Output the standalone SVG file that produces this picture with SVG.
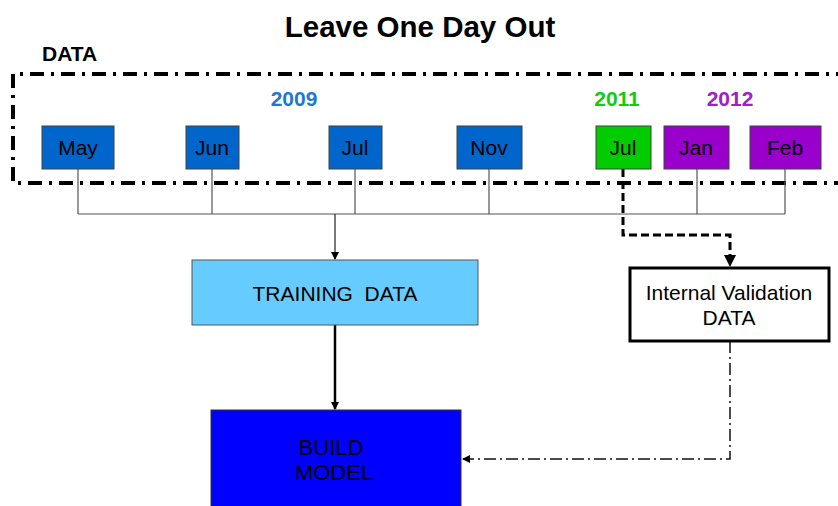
<svg xmlns="http://www.w3.org/2000/svg" width="838" height="506" viewBox="0 0 838 506">
<style>
text{font-family:"Liberation Sans",Arial,sans-serif;}
.t{font-size:21px;fill:#000;text-anchor:middle;}
.yr{font-size:21px;font-weight:bold;text-anchor:middle;}
.mo{stroke:#404040;stroke-width:1;}
.thin{stroke:#555;stroke-width:1.2;fill:none;}
</style>
<defs>
<marker id="ah" markerWidth="8" markerHeight="8" refX="7" refY="4" orient="auto" markerUnits="userSpaceOnUse"><path d="M0,0 L8,4 L0,8 Z" fill="#000"/></marker>
<marker id="ah2" markerWidth="12" markerHeight="12" refX="11" refY="6" orient="auto" markerUnits="userSpaceOnUse"><path d="M0,0 L12,6 L0,12 Z" fill="#000"/></marker>
</defs>
<rect width="838" height="506" fill="#fff"/>
<text x="420" y="37" style="font-size:29.5px;font-weight:bold;" text-anchor="middle">Leave One Day Out</text>
<g id="data-frame">
<text x="42" y="61" style="font-size:21px;font-weight:bold;">DATA</text>
<path d="M850,74 L13,74 L13,183 L850,183" fill="none" stroke="#000" stroke-width="4" stroke-dasharray="14,7,3,7"/>
<text x="294" y="106" class="yr" fill="#1F78D0">2009</text>
<text x="617" y="106" class="yr" fill="#11CC11">2011</text>
<text x="730" y="106" class="yr" fill="#A020C8">2012</text>
</g>
<g id="connectors">
<path class="thin" d="M78,169 V214 M212,169 V214 M355,169 V214 M489,169 V214 M697,169 V214 M785,169 V214 M78,214 H785"/>
<line x1="335" y1="214" x2="335" y2="259" stroke="#222" stroke-width="1.2" marker-end="url(#ah)"/>
<line x1="335" y1="325" x2="335" y2="409" stroke="#000" stroke-width="2.5" marker-end="url(#ah)"/>
<path d="M623,169 V235 H730 V266" fill="none" stroke="#000" stroke-width="3" stroke-dasharray="8,4" marker-end="url(#ah2)"/>
<path d="M730,341 V459 H463" fill="none" stroke="#111" stroke-width="1.5" stroke-dasharray="12,4,2,4" marker-end="url(#ah)"/>
</g>
<g id="may"><rect x="42" y="126" width="72" height="43" fill="#0066CC" class="mo"/><text x="78" y="155" class="t">May</text></g>
<g id="jun"><rect x="186" y="126" width="53" height="43" fill="#0066CC" class="mo"/><text x="212" y="155" class="t">Jun</text></g>
<g id="jul2009"><rect x="329" y="126" width="53" height="43" fill="#0066CC" class="mo"/><text x="355" y="155" class="t">Jul</text></g>
<g id="nov"><rect x="457" y="126" width="65" height="43" fill="#0066CC" class="mo"/><text x="489" y="155" class="t">Nov</text></g>
<g id="jul2011"><rect x="596" y="126" width="55" height="43" fill="#00CC00" class="mo"/><text x="623" y="155" class="t">Jul</text></g>
<g id="jan"><rect x="664" y="126" width="65" height="43" fill="#9900CC" class="mo"/><text x="696" y="155" class="t">Jan</text></g>
<g id="feb"><rect x="750" y="126" width="71" height="43" fill="#9900CC" class="mo"/><text x="785" y="155" class="t">Feb</text></g>
<g id="training"><rect x="192" y="260" width="286" height="65" fill="#66CCFF" stroke="#555" stroke-width="1"/><text x="335" y="301" class="t" xml:space="preserve">TRAINING  DATA</text></g>
<g id="validation"><rect x="630" y="268" width="199" height="73" fill="#fff" stroke="#000" stroke-width="3"/><text x="729" y="300" class="t">Internal Validation</text><text x="729" y="325" class="t">DATA</text></g>
<g id="build"><rect x="211" y="410" width="250" height="100" fill="#0000FF" stroke="#333" stroke-width="1"/><text x="331" y="455" class="t" style="font-size:22px">BUILD</text><text x="334" y="480" class="t" style="font-size:22px">MODEL</text></g>
</svg>
